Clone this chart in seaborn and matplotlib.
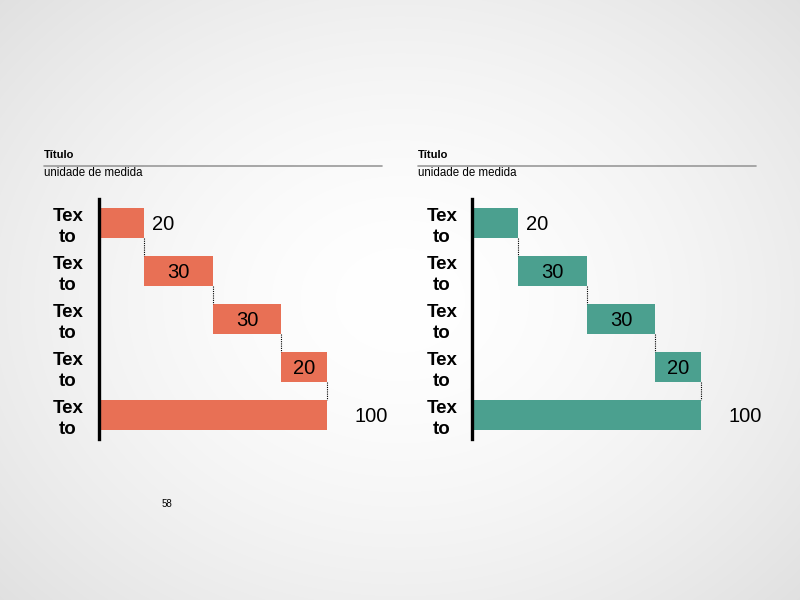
import numpy as np
import matplotlib
matplotlib.use("Agg")
import matplotlib.pyplot as plt
import seaborn as sns

# --- dados ---
rotulos = ["Tex\nto", "Tex\nto", "Tex\nto", "Tex\nto", "Tex\nto"]
valores = [20, 30, 30, 20, 100]
titulos = ["Título", "Título"]
unidades = ["unidade de medida", "unidade de medida"]
cores = ["#E87055", "#4BA08F"]
pagina = "58"

sns.set_theme(style="white")
plt.rcParams["font.family"] = ["Liberation Sans", "DejaVu Sans"]
plt.rcParams["text.color"] = "black"
plt.rcParams["ytick.labelcolor"] = "black"

fig = plt.figure(figsize=(8, 6), dpi=100)

# fundo com gradiente radial
bg = fig.add_axes([0, 0, 1, 1])
yy, xx = np.mgrid[0:600, 0:800]
r = np.sqrt(((xx - 400) / 520.0) ** 2 + ((yy - 300) / 420.0) ** 2)
g = 1.0 - 0.11 * np.clip(r, 0, 1.3) ** 1.6
bg.imshow(np.dstack([g, g, g]), extent=[0, 800, 600, 0], aspect="auto")
bg.set_axis_off()


def waterfall(x0_px, titulo, unidade, cor):
    # eixo: 100 unidades ~ 228 px
    largura_px = 300
    escala = 2.285
    ax = fig.add_axes([x0_px / 800, 1 - 439 / 600, largura_px / 800, 240 / 600])
    ax.patch.set_alpha(0)

    parciais = valores[:-1]
    inicios = list(np.cumsum([0] + parciais[:-1])) + [0]
    fins = [s + v for s, v in zip(inicios, valores)]
    pos = [str(i) for i in range(len(valores))]

    sns.barplot(x=fins, y=pos, orient="h", color=cor, saturation=1,
                width=0.625, ax=ax, linewidth=0)
    for p, s, v in zip(ax.patches, inicios, valores):
        p.set_x(s)
        p.set_width(v)

    # conectores pontilhados
    for i in range(len(valores) - 1):
        ax.plot([fins[i], fins[i]], [i + 0.3125, i + 1 - 0.3125],
                ls=(0, (1, 1)), color="black", lw=0.8)

    # rótulos de valor
    n = len(valores)
    for i, (s, v, f) in enumerate(zip(inicios, valores, fins)):
        if i == 0:
            ax.text(f + 3.5, i, str(v), ha="left", va="center_baseline", fontsize=14.5)
        elif i == n - 1:
            ax.text(f + 12, i, str(v), ha="left", va="center_baseline", fontsize=14.5)
        else:
            ax.text(s + v / 2, i, str(v), ha="center", va="center_baseline", fontsize=14.5)

    ax.set_xlim(0, largura_px / escala)
    ax.set_ylim(n - 0.5, -0.5)
    ax.set_xlabel("")
    ax.set_ylabel("")
    ax.set_xticks([])
    ax.set_yticks(range(n))
    ax.set_yticklabels(rotulos, fontsize=13.5, fontweight="bold",
                       ha="center", multialignment="center")
    for lab in ax.get_yticklabels():
        lab.set_linespacing(1.3)
    ax.tick_params(axis="y", length=0, pad=22)
    for side in ["top", "right", "bottom"]:
        ax.spines[side].set_visible(False)
    ax.spines["left"].set_linewidth(2.4)
    ax.spines["left"].set_color("black")

    # título, linha e unidade
    tx = (x0_px - 54.5) / 800
    fig.text(tx, 1 - 158 / 600, titulo, fontsize=8, fontweight="bold",
             ha="left", va="baseline")
    fig.add_artist(plt.Line2D([tx, tx + 338 / 800], [1 - 166 / 600] * 2,
                              color="#999999", lw=1.2))
    fig.text(tx, 1 - 176 / 600, unidade, fontsize=8.3, ha="left", va="baseline")


waterfall(98.5, titulos[0], unidades[0], cores[0])
waterfall(472.5, titulos[1], unidades[1], cores[1])

fig.text(166.5 / 800, 1 - 504 / 600, pagina, fontsize=7, ha="center", va="center")

fig.savefig("out.png", dpi=100)
